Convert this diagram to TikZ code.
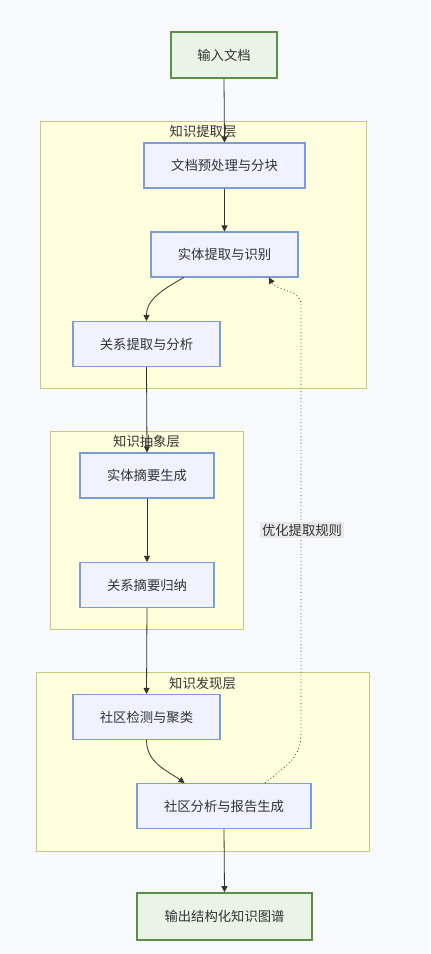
\documentclass[tikz,border=0pt]{standalone}
\usepackage{fontspec}
\setmainfont{Noto Sans CJK SC}
\usetikzlibrary{arrows.meta, positioning, calc}
\definecolor{mBack}{HTML}{F8F9FC}
\definecolor{mStepFill}{HTML}{F0F2FF}
\definecolor{mStepLine}{HTML}{7B9CD6}
\definecolor{mEndFill}{HTML}{EAF4E6}
\definecolor{mEndLine}{HTML}{5A8F48}
\definecolor{mLayerFill}{HTML}{FFFFDE}
\definecolor{mLayerLine}{HTML}{C9C97E}
\definecolor{mText}{HTML}{333333}
\definecolor{mLabel}{HTML}{E8E8E8}

\begin{document}
\begin{tikzpicture}[x=0.75pt, y=-0.75pt,
    every node/.style={font=\fontsize{10}{12}\selectfont, text=mText},
    stepbox/.style={draw=mStepLine, fill=mStepFill, line width=0.8pt, minimum height=33.75pt},
    endbox/.style={draw=mEndLine, fill=mEndFill, line width=1.2pt, minimum height=34.5pt},
    layer/.style={draw=mLayerLine, fill=mLayerFill, line width=0.7pt},
    flow/.style={draw=mText, line width=0.6pt, -{Triangle[length=4.5pt, width=4.5pt]}}]
    \fill[mBack] (0,0) rectangle (430,954);
    \useasboundingbox (0,0) rectangle (430,954);
    % layers
    \draw[layer] (40,121) rectangle (366,388);
    \draw[layer] (50,431) rectangle (243,629);
    \draw[layer] (36,672) rectangle (369,851);
    \node (extlayer) at (203,131) {知识提取层};
    \node (abslayer) at (146.5,441) {知识抽象层};
    \node (dislayer) at (202.5,683) {知识发现层};
    % steps
    \node[endbox, minimum width=79.5pt] (input) at (224,55) {输入文档};
    \node[stepbox, minimum width=120.75pt] (pre) at (224.5,165.5) {文档预处理与分块};
    \node[stepbox, minimum width=110.25pt] (ent) at (224.5,254.5) {实体提取与识别};
    \node[stepbox, minimum width=110.25pt] (rel) at (146.5,344) {关系提取与分析};
    \node[stepbox, minimum width=100.5pt] (entsum) at (147,475.5) {实体摘要生成};
    \node[stepbox, minimum width=100.5pt] (relsum) at (147,585) {关系摘要归纳};
    \node[stepbox, minimum width=110.25pt] (detect) at (146.5,717) {社区检测与聚类};
    \node[stepbox, minimum width=130.5pt] (report) at (224,806) {社区分析与报告生成};
    \node[endbox, minimum width=131.25pt, minimum height=35.25pt] (output) at (224.5,916.5) {输出结构化知识图谱};
    % flow
    \draw[flow] (input.south) -- (pre.north);
    \draw[flow] (pre.south) -- (ent.north);
    \draw[flow] ($(ent.south)!0.55!(ent.south west)$) to[out=-150, in=90] (rel.north);
    \draw[flow] (rel.south) -- (entsum.north);
    \draw[flow] (entsum.south) -- (relsum.north);
    \draw[flow] (relsum.south) -- (detect.north);
    \draw[flow] (detect.south) to[out=-90, in=145] ($(report.north)!0.45!(report.north west)$);
    \draw[flow] (report.south) -- (output.north);
    % feedback
    \coordinate (fblow) at (301,735);
    \coordinate (fbhigh) at (301,305);
    \draw[flow, dotted] ($(report.north)!0.47!(report.north east)$) to[out=40, in=-90] (fblow)
        -- (fbhigh) to[out=90, in=-60] ($(ent.south)!0.6!(ent.south east)$);
    \node[fill=mLabel, inner sep=1.5pt] (fblabel) at (302,530) {优化提取规则};
\end{tikzpicture}
\end{document}
